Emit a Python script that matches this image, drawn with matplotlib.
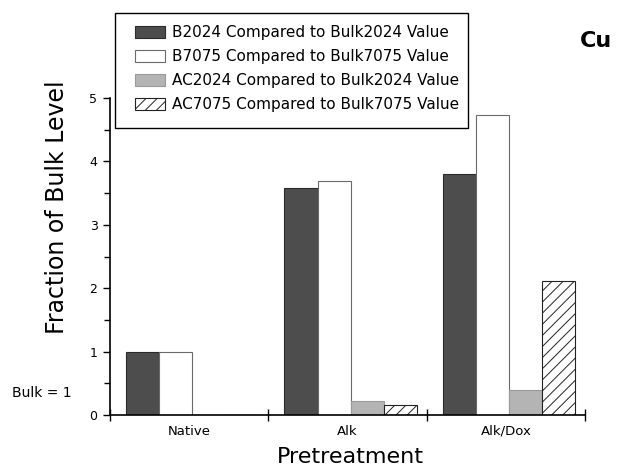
import matplotlib
matplotlib.use("Agg")
import matplotlib.pyplot as plt
import matplotlib.transforms as mtransforms
from matplotlib.patches import Rectangle
from matplotlib.legend_handler import HandlerPatch
import numpy as np

plt.rcParams['font.family'] = ['DejaVu Sans']
plt.rcParams['hatch.linewidth'] = 0.7

categories = ["Native", "Alk", "Alk/Dox"]
series_labels = [
    "B2024 Compared to Bulk2024 Value",
    "B7075 Compared to Bulk7075 Value",
    "AC2024 Compared to Bulk2024 Value",
    "AC7075 Compared to Bulk7075 Value",
]
b2024 = [1.0, 3.58, 3.80]
b7075 = [1.0, 3.69, 4.73]
ac2024 = [0.0, 0.22, 0.39]
ac7075 = [0.0, 0.15, 2.12]
yticks = [0, 1, 2, 3, 4, 5]

fig = plt.figure(figsize=(6.18, 4.70), dpi=100)
ax = fig.add_axes([110/618, 1-415/470, 475/618, 317/470])

x = np.arange(len(categories))
w = 0.209
d = 0.02
styles = [
    dict(facecolor="#4d4d4d", edgecolor="#2a2a2a", hatch=None),
    dict(facecolor="white", edgecolor="#6a6a6a", hatch=None),
    dict(facecolor="#b4b4b4", edgecolor="#9a9a9a", hatch=None),
    dict(facecolor="white", edgecolor="#222222", hatch="///"),
]
handles = []
for j, (vals, st) in enumerate(zip([b2024, b7075, ac2024, ac7075], styles)):
    ax.bar(x + (j - 1.5) * w + d, vals, width=w, facecolor=st["facecolor"],
           edgecolor=st["edgecolor"], hatch=st["hatch"], linewidth=0.8,
           label=series_labels[j], zorder=2)
    handles.append(Rectangle((0, 0), 1, 1, facecolor=st["facecolor"],
                             edgecolor=st["edgecolor"], hatch=st["hatch"], linewidth=0.8))

ax.set_xlim(-0.5, 2.5)
ax.set_ylim(0, 5)
ax.spines['top'].set_visible(False)
ax.spines['right'].set_visible(False)
ax.spines['left'].set_linewidth(1.2)
ax.spines['bottom'].set_linewidth(1.2)

ax.set_yticks(yticks)
ax.set_yticklabels([str(t) for t in yticks], fontsize=9)
ax.set_yticks(np.arange(0.5, 5, 1.0), minor=True)
ax.tick_params(axis='y', which='major', direction='out', length=5, width=1, pad=4)
ax.tick_params(axis='y', which='minor', direction='out', length=4, width=1)

ax.set_xticks([-0.5, 0.5, 1.5, 2.5])
ax.set_xticklabels([])
ax.tick_params(axis='x', which='major', direction='inout', length=8, width=1)
ax.set_xticks(x, minor=True)
ax.set_xticklabels(categories, minor=True, fontsize=9.5)
ax.tick_params(axis='x', which='minor', length=0, pad=7)

ax.set_ylabel("Fraction of Bulk Level", fontsize=17, va='center')
ax.yaxis.set_label_coords((57-110)/475, (415-207)/317)
ax.set_xlabel("Pretreatment", fontsize=16, va='center')
ax.xaxis.set_label_coords((350-110)/475, (415-457)/317)

ax.text(42/618, 0.35, "Bulk = 1",
        transform=mtransforms.blended_transform_factory(fig.transFigure, ax.transData),
        fontsize=10, ha='center', va='center')

fig.text(580/618, 1-41/470, "Cu", fontsize=16, fontweight='bold', ha='left', va='center')

# legend frame box
frame = Rectangle((115/618, 1-128/470), 353/618, 115/470, transform=fig.transFigure,
                  facecolor='white', edgecolor='black', linewidth=1.0, zorder=3)
fig.patches.append(frame)


def small_box(legend, orig_handle, xdescent, ydescent, width, height, fontsize):
    off = 0.27 * width
    return Rectangle((-xdescent + off, -ydescent), width - off, height)


leg = fig.legend(handles=handles, labels=series_labels, loc='upper left',
                 bbox_to_anchor=(124/618, 1-25/470), bbox_transform=fig.transFigure,
                 handler_map={Rectangle: HandlerPatch(patch_func=small_box)},
                 fontsize=11, frameon=False,
                 labelspacing=0.6, handlelength=2.68, handleheight=0.85,
                 handletextpad=0.46, borderpad=0, borderaxespad=0)
leg.set_zorder(5)

fig.savefig("out.png", dpi=100)
